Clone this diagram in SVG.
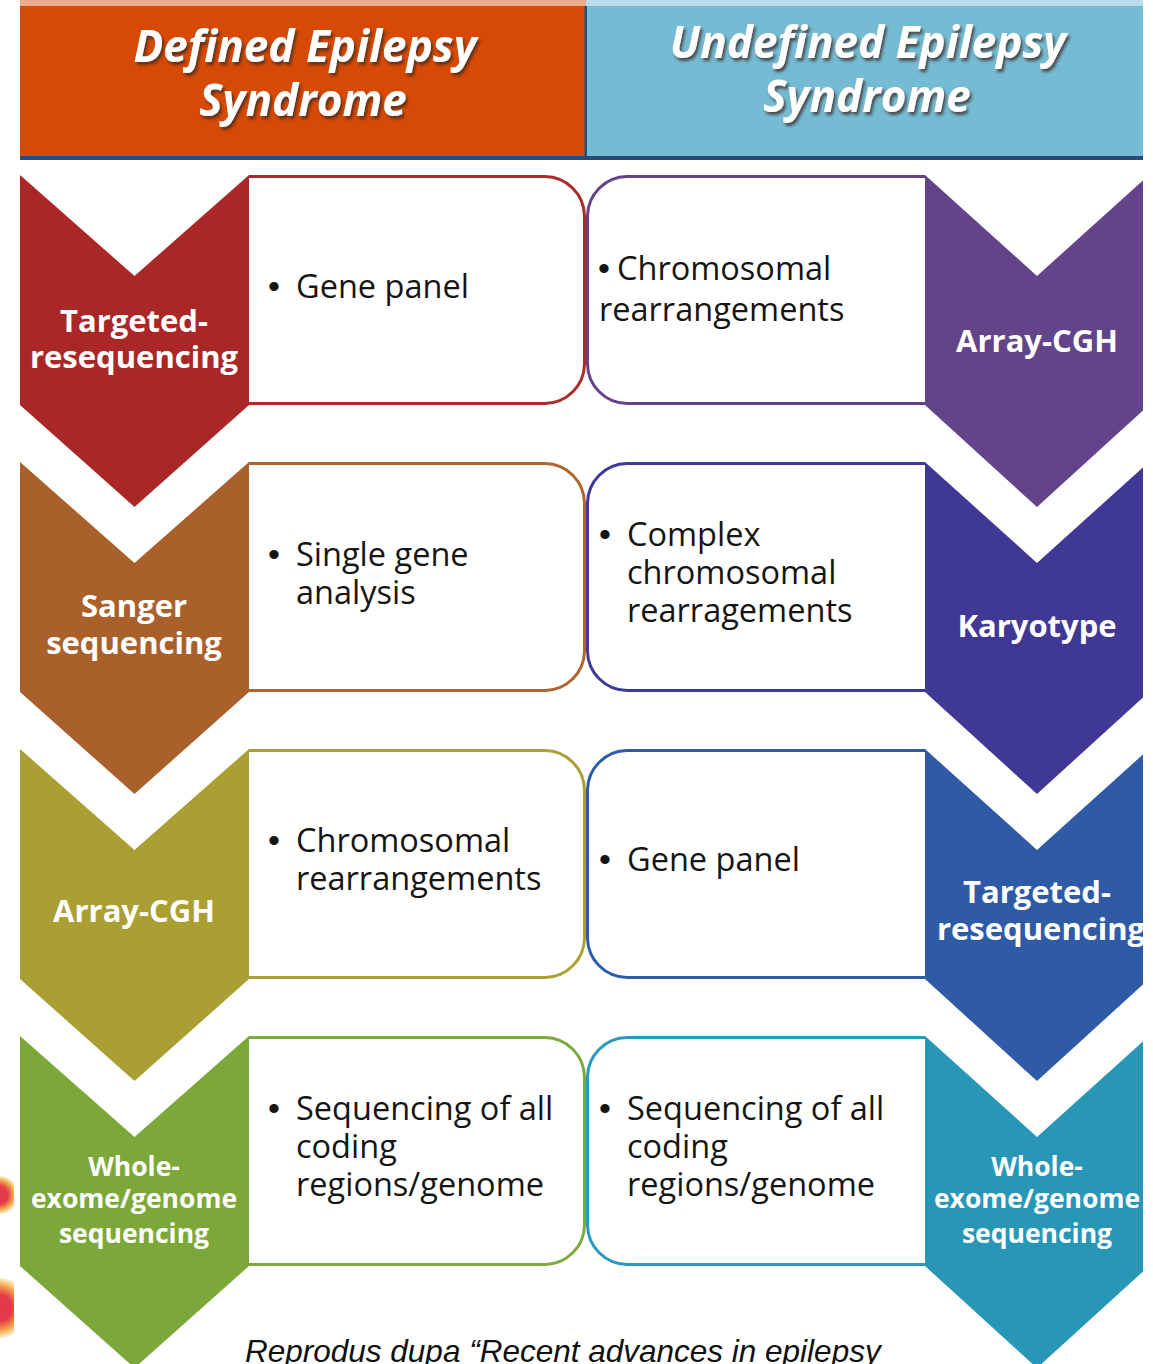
<svg xmlns="http://www.w3.org/2000/svg" width="1153" height="1364" viewBox="0 0 1153 1364">
  <defs>
    <filter id="shadow" x="-10%" y="-30%" width="120%" height="160%">
      <feDropShadow dx="2" dy="3" stdDeviation="1.6" flood-color="#3a2a20" flood-opacity="0.75"/>
    </filter>
    <radialGradient id="dot" cx="0.5" cy="0.5" r="0.5">
      <stop offset="0.45" stop-color="#e23a4c"/>
      <stop offset="0.6" stop-color="#ec6a45"/>
      <stop offset="0.8" stop-color="#f2b35a"/>
      <stop offset="1" stop-color="#f6d58a" stop-opacity="0.5"/>
    </radialGradient>
    <clipPath id="leftEdge">
      <rect x="0" y="1100" width="14" height="264"/>
    </clipPath>
  </defs>
  <style>
    .head { font-family: "Open Sans", "Liberation Sans", sans-serif; font-weight: 700; font-style: italic; font-size: 44px; fill: #ffffff; text-anchor: middle; }
    .tag { font-family: "Open Sans", "Liberation Sans", sans-serif; font-weight: 700; font-size: 31px; fill: #ffffff; text-anchor: middle; }
    .tag.small { font-size: 26.5px; }
    .item { font-family: "Open Sans", "Liberation Sans", sans-serif; font-size: 32.5px; fill: #151515; }
    .dot { font-family: "Liberation Sans", Arial, sans-serif; font-size: 34px; fill: #151515; }
    .box { fill: #ffffff; stroke-width: 3; }
    .caption { font-family: "Liberation Sans", Arial, sans-serif; font-style: italic; font-size: 31.5px; fill: #111111; }
  </style>

  <rect width="1153" height="1364" fill="#ffffff"/>

  <!-- side dots -->
  <g clip-path="url(#leftEdge)">
    <circle cx="-1" cy="1195" r="19" fill="url(#dot)"/>
    <circle cx="-2" cy="1308" r="30" fill="url(#dot)"/>
  </g>

  <!-- column headers -->
  <g id="header-defined">
    <rect x="20" y="0" width="566" height="6" fill="#eeab8b"/>
    <rect x="20" y="6" width="566" height="152" fill="#d64a05"/>
    <text class="head" filter="url(#shadow)"><tspan x="305" y="62">Defined Epilepsy</tspan><tspan x="303" y="116">Syndrome</tspan></text>
  </g>
  <g id="header-undefined">
    <rect x="586" y="0" width="557" height="6" fill="#bcdde9"/>
    <rect x="586" y="6" width="557" height="152" fill="#74bbd3"/>
    <text class="head" filter="url(#shadow)"><tspan x="868" y="58">Undefined Epilepsy</tspan><tspan x="867" y="112">Syndrome</tspan></text>
  </g>
  <rect x="584.5" y="6" width="2.5" height="152" fill="#2a4a78"/>
  <rect x="20" y="156" width="1123" height="4" fill="#2a4a78"/>

  <!-- left column boxes -->
  <g id="box-l1">
    <path class="box" stroke="#ab2b2b" d="M249,176.5 H545 A40,40 0 0 1 584.5,216 V364 A40,40 0 0 1 545,403.5 H249"/>
    <text class="dot" x="268" y="298">•</text>
    <text class="item" x="296" y="298">Gene panel</text>
  </g>
  <g id="box-l2">
    <path class="box" stroke="#b0652e" d="M249,463.5 H545 A40,40 0 0 1 584.5,503 V651 A40,40 0 0 1 545,690.5 H249"/>
    <text class="dot" x="268" y="566">•</text>
    <text class="item"><tspan x="296" y="566">Single gene</tspan><tspan x="296" y="604">analysis</tspan></text>
  </g>
  <g id="box-l3">
    <path class="box" stroke="#aaa136" d="M249,750.5 H545 A40,40 0 0 1 584.5,790 V938 A40,40 0 0 1 545,977.5 H249"/>
    <text class="dot" x="268" y="852">•</text>
    <text class="item"><tspan x="296" y="852">Chromosomal</tspan><tspan x="296" y="890">rearrangements</tspan></text>
  </g>
  <g id="box-l4">
    <path class="box" stroke="#7eaa3d" d="M249,1037.5 H545 A40,40 0 0 1 584.5,1077 V1225 A40,40 0 0 1 545,1264.5 H249"/>
    <text class="dot" x="268" y="1120">•</text>
    <text class="item"><tspan x="296" y="1120">Sequencing of all</tspan><tspan x="296" y="1158">coding</tspan><tspan x="296" y="1196">regions/genome</tspan></text>
  </g>

  <!-- right column boxes -->
  <g id="box-r1">
    <path class="box" stroke="#64438b" d="M925,176.5 H627 A40,40 0 0 0 587.5,216 V364 A40,40 0 0 0 627,403.5 H925"/>
    <text class="dot" x="598" y="280">•</text>
    <text class="item"><tspan x="617" y="280">Chromosomal</tspan><tspan x="599" y="321">rearrangements</tspan></text>
  </g>
  <g id="box-r2">
    <path class="box" stroke="#3e3a98" d="M925,463.5 H627 A40,40 0 0 0 587.5,503 V651 A40,40 0 0 0 627,690.5 H925"/>
    <text class="dot" x="599" y="546">•</text>
    <text class="item"><tspan x="627" y="546">Complex</tspan><tspan x="627" y="584">chromosomal</tspan><tspan x="627" y="622">rearragements</tspan></text>
  </g>
  <g id="box-r3">
    <path class="box" stroke="#2f5ca8" d="M925,750.5 H627 A40,40 0 0 0 587.5,790 V938 A40,40 0 0 0 627,977.5 H925"/>
    <text class="dot" x="599" y="871">•</text>
    <text class="item" x="627" y="871">Gene panel</text>
  </g>
  <g id="box-r4">
    <path class="box" stroke="#2a99bd" d="M925,1037.5 H627 A40,40 0 0 0 587.5,1077 V1225 A40,40 0 0 0 627,1264.5 H925"/>
    <text class="dot" x="599" y="1120">•</text>
    <text class="item"><tspan x="627" y="1120">Sequencing of all</tspan><tspan x="627" y="1158">coding</tspan><tspan x="627" y="1196">regions/genome</tspan></text>
  </g>

  <!-- left column chevrons -->
  <g id="chev-l1">
    <polygon fill="#aa2727" points="20,175 134.5,276 249,175 249,405 134.5,507 20,405"/>
    <text class="tag"><tspan x="134" y="332">Targeted-</tspan><tspan x="134" y="368">resequencing</tspan></text>
  </g>
  <g id="chev-l2">
    <polygon fill="#aa602b" points="20,462 134.5,563 249,462 249,692 134.5,794 20,692"/>
    <text class="tag"><tspan x="134" y="617">Sanger</tspan><tspan x="134" y="654">sequencing</tspan></text>
  </g>
  <g id="chev-l3">
    <polygon fill="#aa9f33" points="20,749 134.5,850 249,749 249,979 134.5,1081 20,979"/>
    <text class="tag" x="134" y="922">Array-CGH</text>
  </g>
  <g id="chev-l4">
    <polygon fill="#7ca83a" points="20,1036 134.5,1137 249,1036 249,1266 134.5,1368 20,1266"/>
    <text class="tag small"><tspan x="134" y="1176">Whole-</tspan><tspan x="134" y="1208">exome/genome</tspan><tspan x="134" y="1243">sequencing</tspan></text>
  </g>

  <!-- right column chevrons -->
  <g id="chev-r1">
    <polygon fill="#63438a" points="925,175 1037,276 1149,175 1149,405 1037,507 925,405"/>
    <text class="tag" x="1037" y="352">Array-CGH</text>
  </g>
  <g id="chev-r2">
    <polygon fill="#3f3895" points="925,462 1037,563 1149,462 1149,692 1037,794 925,692"/>
    <text class="tag" x="1037" y="637">Karyotype</text>
  </g>
  <g id="chev-r3">
    <polygon fill="#2e5aa6" points="925,749 1037,850 1149,749 1149,979 1037,1081 925,979"/>
    <text class="tag"><tspan x="1037" y="903">Targeted-</tspan><tspan x="1041" y="940">resequencing</tspan></text>
  </g>
  <g id="chev-r4">
    <polygon fill="#2896b7" points="925,1036 1037,1137 1149,1036 1149,1266 1037,1368 925,1266"/>
    <text class="tag small"><tspan x="1037" y="1176">Whole-</tspan><tspan x="1037" y="1208">exome/genome</tspan><tspan x="1037" y="1243">sequencing</tspan></text>
  </g>

  <!-- page margin on the right -->
  <rect x="1143" y="0" width="10" height="1364" fill="#ffffff"/>

  <text class="caption" x="245" y="1362">Reprodus dupa “Recent advances in epilepsy</text>
</svg>
